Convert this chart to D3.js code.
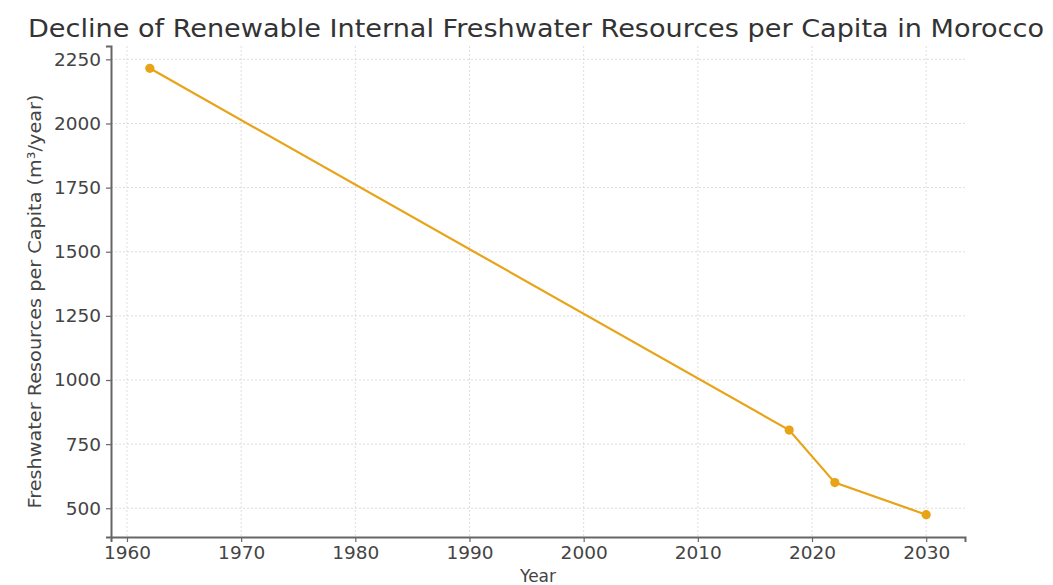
<!DOCTYPE html>
<html><head><meta charset="utf-8">
<script src="https://cdn.jsdelivr.net/npm/d3@7"></script>
<style>body{margin:0;background:#fff}svg{display:block}</style>
</head><body>
<svg id="c" width="1053" height="585"></svg>
<script>
const years = [1962, 2018, 2022, 2030];
const values = [2215, 805, 600, 475];
const xTicks = [1960, 1970, 1980, 1990, 2000, 2010, 2020, 2030];
const yTicks = [500, 750, 1000, 1250, 1500, 1750, 2000, 2250];
const titleText = "Decline of Renewable Internal Freshwater Resources per Capita in Morocco";
const xLabel = "Year";
const yLabel = "Freshwater Resources per Capita (m³/year)";

const svg = d3.select("#c");
const L = 111, R = 965, T = 46, B = 537;
const xPad = (d3.max(years) - d3.min(years)) * 0.05;
const yPad = (d3.max(values) - d3.min(values)) * 0.05;
const x = d3.scaleLinear().domain([d3.min(years) - xPad, d3.max(years) + xPad]).range([L, R]);
const y = d3.scaleLinear().domain([d3.min(values) - yPad, d3.max(values) + yPad]).range([B, T]);
const font = "DejaVu Sans, sans-serif";
const col = "#E8A317";

// grid
svg.append("g").selectAll("line").data(xTicks).join("line")
  .attr("x1", d => x(d)).attr("x2", d => x(d)).attr("y1", T).attr("y2", B)
  .attr("stroke", "#d4d4d4").attr("stroke-width", 0.8).attr("stroke-dasharray", "2,2");
svg.append("g").selectAll("line").data(yTicks).join("line")
  .attr("x1", L).attr("x2", R).attr("y1", d => y(d)).attr("y2", d => y(d))
  .attr("stroke", "#d4d4d4").attr("stroke-width", 0.8).attr("stroke-dasharray", "2,2");

// axes
const xAxis = svg.append("g").attr("transform", `translate(0,${B})`)
  .call(d3.axisBottom(x).tickValues(xTicks).tickFormat(d3.format("d")).tickSizeOuter(0).tickSize(5).tickPadding(4));
const yAxis = svg.append("g").attr("transform", `translate(${L},0)`)
  .call(d3.axisLeft(y).tickValues(yTicks).tickFormat(d3.format("d")).tickSizeOuter(0).tickSize(5).tickPadding(5));
[xAxis, yAxis].forEach(a => {
  a.select(".domain").attr("stroke", "#666").attr("stroke-width", 2);
  a.selectAll(".tick line").attr("stroke", "#666").attr("stroke-width", 1.2);
  a.selectAll(".tick text").attr("fill", "#444").style("font-family", font).style("font-size", "18.5px");
});

// line
svg.append("path").datum(years.map((d, i) => [d, values[i]]))
  .attr("fill", "none").attr("stroke", col).attr("stroke-width", 2.2)
  .attr("d", d3.line().x(d => x(d[0])).y(d => y(d[1])));
svg.append("g").selectAll("circle").data(years.map((d, i) => [d, values[i]])).join("circle")
  .attr("cx", d => x(d[0])).attr("cy", d => y(d[1])).attr("r", 4.6).attr("fill", col);

// texts
svg.append("text").attr("x", 536).attr("y", 37).attr("text-anchor", "middle")
  .attr("textLength", 1016).attr("lengthAdjust", "spacingAndGlyphs")
  .style("font-family", font).style("font-size", "25px").attr("fill", "#333").text(titleText);
svg.append("text").attr("x", (L + R) / 2).attr("y", 582).attr("text-anchor", "middle")
  .style("font-family", font).style("font-size", "17px").attr("fill", "#444").text(xLabel);
svg.append("text").attr("transform", `translate(41,${(T + B) / 2 + 10}) rotate(-90)`).attr("text-anchor", "middle")
  .attr("textLength", 414).attr("lengthAdjust", "spacingAndGlyphs")
  .style("font-family", font).style("font-size", "18px").attr("fill", "#444").text(yLabel);
</script>
</body></html>
